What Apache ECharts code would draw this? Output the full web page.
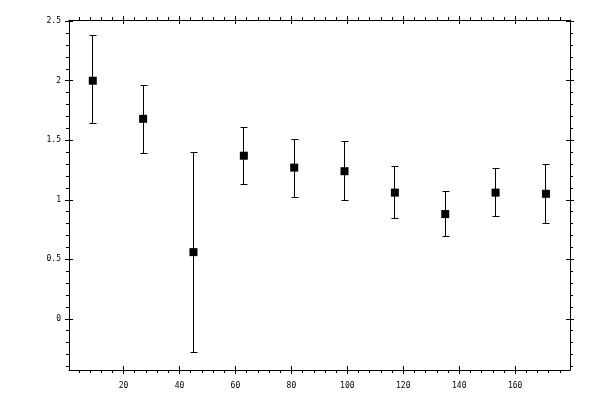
<!DOCTYPE html>
<html>
<head>
<meta charset="utf-8">
<script src="https://cdn.jsdelivr.net/npm/echarts@6/dist/echarts.min.js"></script>
<style>html,body{margin:0;padding:0;background:#fff}#c{width:600px;height:400px}</style>
</head>
<body>
<div id="c"></div>
<script>
var xs = [9, 27, 45, 63, 81, 99, 117, 135, 153, 171];
var means = [2.00, 1.68, 0.56, 1.37, 1.27, 1.24, 1.06, 0.88, 1.06, 1.05];
var lowers = [1.64, 1.39, -0.28, 1.13, 1.02, 0.99, 0.84, 0.69, 0.86, 0.80];
var uppers = [2.38, 1.96, 1.40, 1.61, 1.51, 1.49, 1.28, 1.07, 1.26, 1.30];
var xMajor = [20, 40, 60, 80, 100, 120, 140, 160];
var xMinor = [4, 8, 12, 16, 24, 28, 32, 36, 44, 48, 52, 56, 64, 68, 72, 76, 84, 88, 92, 96, 104, 108, 112, 116, 124, 128, 132, 136, 144, 148, 152, 156, 164, 168, 172, 176];
var yMajor = [0, 0.5, 1, 1.5, 2, 2.5];
var yMinor = [-0.4, -0.3, -0.2, -0.1, 0.1, 0.2, 0.3, 0.4, 0.6, 0.7, 0.8, 0.9, 1.1, 1.2, 1.3, 1.4, 1.6, 1.7, 1.8, 1.9, 2.1, 2.2, 2.3, 2.4];

var X_MIN = 0.5, X_MAX = 179.6, Y_MIN = -0.43, Y_MAX = 2.51;
var font = {fontFamily: 'DejaVu Sans Mono', fontSize: 8, color: '#000'};

function mkAxis(type, pos, vals, opts) {
  var a = {
    type: 'value', position: pos,
    min: type === 'x' ? X_MIN : Y_MIN,
    max: type === 'x' ? X_MAX : Y_MAX,
    splitLine: {show: false},
    axisLine: {show: !!opts.line, onZero: false, lineStyle: {color: '#000', width: 1}},
    axisTick: {show: true, customValues: vals, inside: !!opts.inside, length: opts.len,
      lineStyle: {color: '#000', width: 1}},
    axisLabel: {show: false}
  };
  if (opts.labels) {
    a.axisLabel = Object.assign({show: true, customValues: vals, margin: opts.margin,
      formatter: function (v) { return String(v); }}, font);
  }
  return a;
}

var xAxes = [
  mkAxis('x', 'bottom', xMajor, {line: true, len: 4, labels: true, margin: 12}),
  mkAxis('x', 'bottom', xMajor, {len: 4, inside: true}),
  mkAxis('x', 'bottom', xMinor, {len: 3}),
  mkAxis('x', 'top', xMajor, {line: true, len: 4}),
  mkAxis('x', 'top', xMajor, {len: 4, inside: true}),
  mkAxis('x', 'top', xMinor, {len: 3})
];
var yAxes = [
  mkAxis('y', 'left', yMajor, {line: true, len: 4, labels: true, margin: 8}),
  mkAxis('y', 'left', yMajor, {len: 4, inside: true}),
  mkAxis('y', 'left', yMinor, {len: 3}),
  mkAxis('y', 'right', yMajor, {line: true, len: 4}),
  mkAxis('y', 'right', yMajor, {len: 4, inside: true}),
  mkAxis('y', 'right', yMinor, {len: 3})
];

var points = xs.map(function (x, i) { return [x, means[i]]; });
var bars = xs.map(function (x, i) { return [x, lowers[i], uppers[i]]; });

function snap(v) { return Math.round(v - 0.5) + 0.5; }

var chart = echarts.init(document.getElementById('c'), null, {renderer: 'canvas'});
chart.setOption({
  animation: false,
  backgroundColor: '#fff',
  grid: {left: 69, right: 30, top: 20, bottom: 30, containLabel: false},
  xAxis: xAxes,
  yAxis: yAxes,
  series: [
    {
      type: 'custom', xAxisIndex: 0, yAxisIndex: 0, silent: true,
      data: bars,
      renderItem: function (params, api) {
        var lo = api.coord([api.value(0), api.value(1)]);
        var hi = api.coord([api.value(0), api.value(2)]);
        var cx = snap(lo[0]), ly = snap(lo[1]), hy = snap(hi[1]);
        var hw = 3;
        var st = {stroke: '#000', lineWidth: 1, fill: null};
        return {
          type: 'group',
          children: [
            {type: 'line', shape: {x1: cx, y1: ly, x2: cx, y2: hy}, style: st},
            {type: 'line', shape: {x1: cx - hw, y1: ly, x2: cx + hw + 1, y2: ly}, style: st},
            {type: 'line', shape: {x1: cx - hw, y1: hy, x2: cx + hw + 1, y2: hy}, style: st}
          ]
        };
      }
    },
    {
      type: 'scatter', xAxisIndex: 0, yAxisIndex: 0, silent: true,
      symbol: 'rect', symbolSize: 8,
      itemStyle: {color: '#000', opacity: 1},
      data: points
    }
  ]
});
</script>
</body>
</html>
